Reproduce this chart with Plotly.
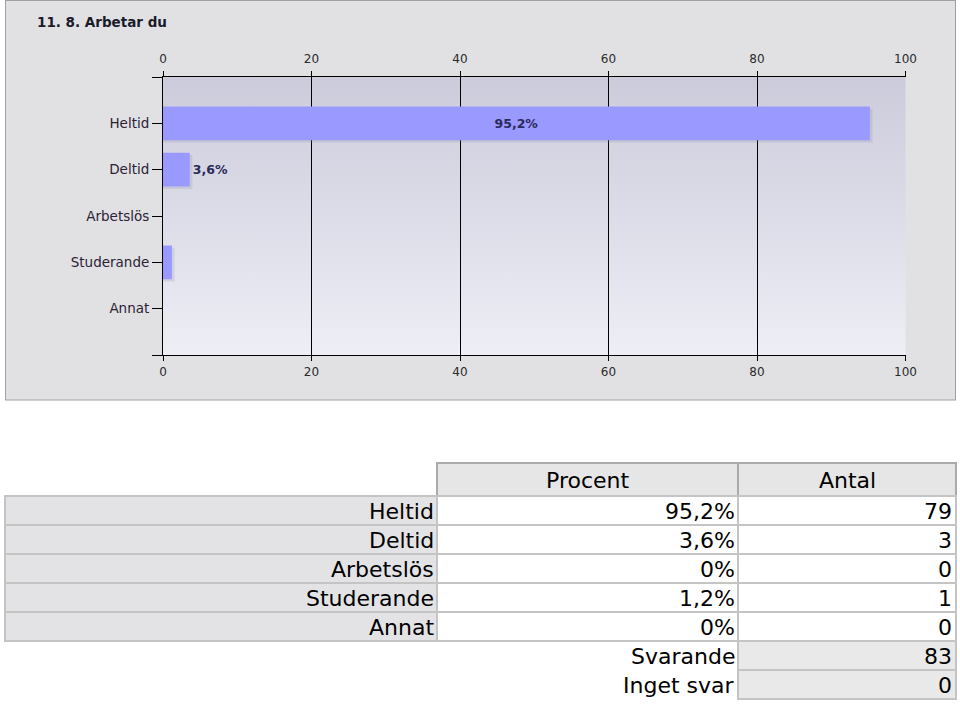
import base64
import plotly.graph_objects as go

# ---------------- data ----------------
title = "11. 8. Arbetar du"
categories = ["Heltid", "Deltid", "Arbetslös", "Studerande", "Annat"]
percent = [95.2, 3.6, 0, 1.2, 0]
counts = [79, 3, 0, 1, 0]
bar_labels = ["95,2%", "3,6%", "", "", ""]
label_pos = ["inside", "outside", "none", "none", "none"]
x_ticks = [0, 20, 40, 60, 80, 100]
table_header = ["Procent", "Antal"]
summary_labels = ["Svarande", "Inget svar"]
summary_values = [83, 0]

W, H = 960, 705
def X(p): return p / W
def Y(p): return 1 - p / H

# plot area in pixels
PX0, PX1, PY0, PY1 = 163, 905.5, 77, 355
ypos = list(range(1, len(categories) + 1))

# background panel + gradient as an SVG image
svg = (
    f'<svg xmlns="http://www.w3.org/2000/svg" width="{W}" height="{H}" viewBox="0 0 {W} {H}" preserveAspectRatio="none">'
    '<defs><linearGradient id="g" x1="0" y1="0" x2="0" y2="1">'
    '<stop offset="0" stop-color="#cbcbdb"/><stop offset="1" stop-color="#eeeef6"/>'
    '</linearGradient></defs>'
    '<rect x="5.5" y="0.5" width="950" height="399.5" fill="#e1e1e4" stroke="#a0a0a0" stroke-width="1"/>'
    f'<rect x="{PX0}" y="{PY0}" width="{PX1-PX0}" height="{PY1-PY0}" fill="url(#g)"/>'
    '</svg>'
)
svg_uri = "data:image/svg+xml;base64," + base64.b64encode(svg.encode()).decode()

fig = go.Figure()

# shadow
fig.add_trace(go.Bar(
    y=ypos, x=[v + 0.35 if v > 0 else 0 for v in percent], orientation="h",
    width=0.73, offset=-0.365 + 0.05,
    marker=dict(color="rgba(120,120,150,0.18)", line=dict(width=0)),
    hoverinfo="skip", showlegend=False,
))
# bars
fig.add_trace(go.Bar(
    y=ypos, x=percent, orientation="h", width=0.73,
    marker=dict(color="#9999ff", line=dict(width=0)),
    text=bar_labels, textposition=label_pos, insidetextanchor="middle",
    textfont=dict(family="DejaVu Sans", size=12.5, color="#2a2a5a", weight="bold"),
    cliponaxis=False, showlegend=False,
))
# dummy trace for top axis
fig.add_trace(go.Scatter(x=[0], y=[0], xaxis="x2", yaxis="y", mode="none",
                         showlegend=False, hoverinfo="skip"))

tickfont = dict(family="DejaVu Sans", size=12, color="#2a2a2a")
common_x = dict(
    domain=[X(PX0), X(PX1)], range=[0, 100], tickvals=x_ticks,
    ticks="outside", ticklen=5, tickcolor="black", tickwidth=1,
    showline=True, linecolor="black", linewidth=1,
    tickfont=tickfont, zeroline=False, fixedrange=True, automargin=False,
)
fig.update_layout(
    width=W, height=H, autosize=False,
    margin=dict(l=0, r=0, t=0, b=0, pad=0),
    paper_bgcolor="white", plot_bgcolor="rgba(0,0,0,0)",
    barmode="overlay",
    xaxis=dict(**common_x, side="bottom", anchor="y", showgrid=True,
               gridcolor="black", gridwidth=1, ticklabelstandoff=1),
    xaxis2=dict(**common_x, side="top", overlaying="x", anchor="y", showgrid=False,
                ticklabelstandoff=3),
    yaxis=dict(
        domain=[Y(PY1), Y(PY0)], range=[len(categories) + 1, 0],
        tickvals=list(range(0, len(categories) + 2)),
        ticktext=[""] + categories + [""],
        ticks="outside", ticklen=10, tickcolor="black", tickwidth=1,
        showline=True, linecolor="black", linewidth=1, showgrid=False,
        zeroline=False, fixedrange=True, automargin=False,
        tickfont=dict(family="DejaVu Sans", size=13.5, color="#2b2233"),
    ),
    images=[dict(source=svg_uri, xref="paper", yref="paper", x=0, y=1,
                 sizex=1, sizey=1, xanchor="left", yanchor="top",
                 sizing="stretch", layer="below")],
)

shapes = []
annotations = []

# title
annotations.append(dict(text=f"<b>{title}</b>", x=X(35), y=Y(22), xref="paper", yref="paper",
                        xanchor="left", yanchor="middle", showarrow=False,
                        font=dict(family="DejaVu Sans", size=13.5, color="#1a1a2a")))

# ---------------- table ----------------
tfont = dict(family="DejaVu Sans", size=22, color="black")
C0, C1, C2, C3 = 5, 437, 738, 956
HY0, HY1 = 463, 496
RH = 29

def rect(x0, y0, x1, y1, fill, line, lw=2):
    shapes.append(dict(type="rect", xref="paper", yref="paper",
                       x0=X(x0), x1=X(x1), y0=Y(y1), y1=Y(y0),
                       fillcolor=fill, line=dict(color=line, width=lw)))

def txt(s, x, y, anchor="right"):
    annotations.append(dict(text=s, x=X(x), y=Y(y), xref="paper", yref="paper",
                            xanchor=anchor, yanchor="middle", showarrow=False,
                            font=tfont))

# header
rect(C1, HY0, C2, HY1, "#e6e6e6", "#aaaaaa")
rect(C2, HY0, C3, HY1, "#e6e6e6", "#aaaaaa")
txt(table_header[0], (C1 + C2) / 2, (HY0 + HY1) / 2 + 1, "center")
txt(table_header[1], (C2 + C3) / 2, (HY0 + HY1) / 2 + 1, "center")

def fmt_pct(v):
    return f"{v:g}".replace(".", ",") + "%"

for i, (cat, p, n) in enumerate(zip(categories, percent, counts)):
    y0 = HY1 + i * RH
    y1 = y0 + RH
    rect(C0, y0, C1, y1, "#e3e3e6", "#c4c4c4")
    rect(C1, y0, C2, y1, "white", "#c4c4c4")
    rect(C2, y0, C3, y1, "white", "#c4c4c4")
    yc = (y0 + y1) / 2 + 1
    txt(cat, C1 - 1, yc)
    txt(fmt_pct(p), C2 - 1, yc)
    txt(str(n), C3 - 2, yc)

for j, (lab, val) in enumerate(zip(summary_labels, summary_values)):
    y0 = HY1 + (len(categories) + j) * RH
    y1 = y0 + RH
    rect(C2, y0, C3, y1, "#e9e9e9", "#c4c4c4")
    yc = (y0 + y1) / 2 + 1
    txt(lab, C2 - 1, yc)
    txt(str(val), C3 - 2, yc)

fig.update_layout(shapes=shapes, annotations=annotations)
fig.write_html(
    "out.html",
    config={"responsive": False},
    default_width="960px", default_height="705px",
    post_script="document.body.style.margin='0';document.body.style.overflow='hidden';"
                "document.documentElement.style.overflow='hidden';",
)
